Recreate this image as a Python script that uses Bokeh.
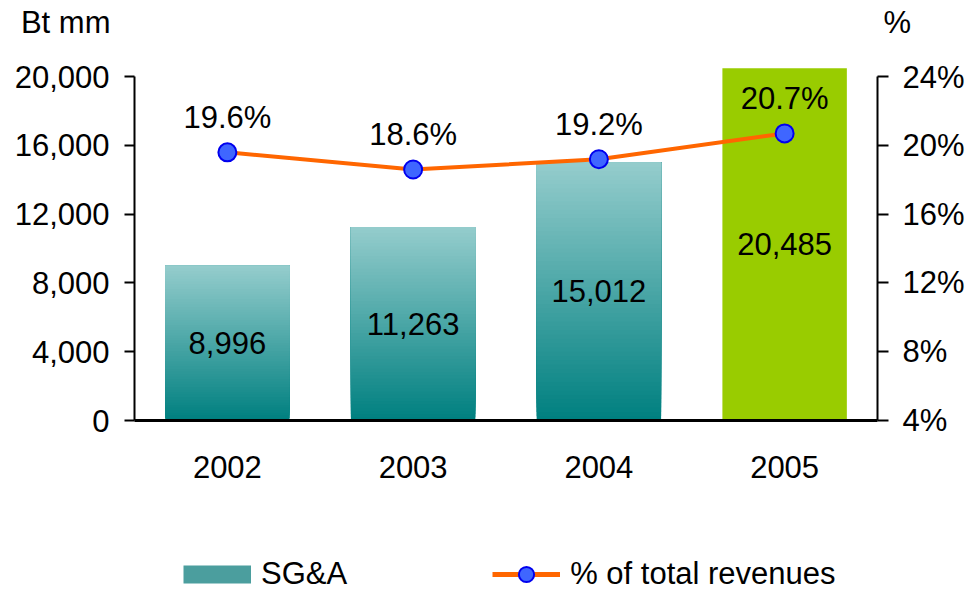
from bokeh.plotting import figure
from bokeh.layouts import column
from bokeh.models import (Range1d, LinearAxis, FixedTicker, NumeralTickFormatter,
                          PrintfTickFormatter, Legend, LegendItem)
from bokeh.core.properties import value
from bokeh.embed import file_html
from bokeh.resources import INLINE

# ---- data ----
years = ["2002", "2003", "2004", "2005"]
sga = [8996, 11263, 15012, 20485]
sga_labels = ["8,996", "11,263", "15,012", "20,485"]
pct = [19.6, 18.6, 19.2, 20.7]
pct_labels = ["19.6%", "18.6%", "19.2%", "20.7%"]
left_ticks = [0, 4000, 8000, 12000, 16000, 20000]
right_ticks = [4, 8, 12, 16, 20, 24]
highlight = ["2005"]
left_unit = "Bt mm"
right_unit = "%"
series_names = ["SG&A", "% of total revenues"]

FONT = "Liberation Sans"
FS = "31px"
TEAL_TOP = (148, 204, 204)
TEAL_BOT = (0, 128, 128)
TEAL_MID = "#4B9E9E"
GREEN = "#99CC00"
ORANGE = "#FF6600"
DOT_FILL = "#3F66FF"
DOT_LINE = "#0000EE"

FRAME_W = 743
BORDER_L = 134
BORDER_R = 82
HEAD_H = 59

def style_axis(ax):
    ax.axis_line_color = "black"
    ax.axis_line_width = 2
    ax.major_tick_line_color = "black"
    ax.major_tick_line_width = 2
    ax.minor_tick_line_color = None
    ax.major_label_text_font = FONT
    ax.major_label_text_font_size = FS
    ax.major_label_text_color = "black"

def bare_axis(ax):
    style_axis(ax)
    ax.axis_line_color = None
    ax.major_tick_line_color = None
    ax.major_tick_out = 0
    ax.major_tick_in = 0

def blank(fig):
    fig.outline_line_color = None
    fig.xgrid.grid_line_color = None
    fig.ygrid.grid_line_color = None

# ---- header strip: unit captions as axis labels ----
head = figure(frame_width=FRAME_W, frame_height=HEAD_H,
              min_border_left=BORDER_L, min_border_right=BORDER_R,
              min_border_top=0, min_border_bottom=0,
              x_range=Range1d(0, 1), y_range=Range1d(0, HEAD_H),
              x_axis_location=None, output_backend="svg", toolbar_location=None)
blank(head)
cap_pos = HEAD_H - 22
hl = head.yaxis[0]
bare_axis(hl)
hl.ticker = FixedTicker(ticks=[cap_pos])
hl.major_label_overrides = {cap_pos: left_unit}
hl.major_label_standoff = 24
hr = LinearAxis()
bare_axis(hr)
hr.ticker = FixedTicker(ticks=[cap_pos])
hr.major_label_overrides = {cap_pos: right_unit}
hr.major_label_standoff = 6
head.add_layout(hr, "right")

# ---- main chart ----
p = figure(x_range=years, y_range=Range1d(0, 21000),
           frame_width=FRAME_W, frame_height=361,
           min_border_left=BORDER_L, min_border_right=BORDER_R,
           min_border_top=0, min_border_bottom=70,
           output_backend="svg", toolbar_location=None)
blank(p)
p.background_fill_color = "white"
p.extra_y_ranges = {"pct": Range1d(4, 25)}

# gradient bars built from strips
N = 60
bx, bb, bt, bc = [], [], [], []
for yr, v in zip(years, sga):
    if yr in highlight:
        continue
    for i in range(N):
        f = i / (N - 1)
        r = round(TEAL_BOT[0] + (TEAL_TOP[0] - TEAL_BOT[0]) * f)
        g = round(TEAL_BOT[1] + (TEAL_TOP[1] - TEAL_BOT[1]) * f)
        b = round(TEAL_BOT[2] + (TEAL_TOP[2] - TEAL_BOT[2]) * f)
        bx.append(yr)
        bb.append(v * i / N)
        bt.append(v)
        bc.append("#%02x%02x%02x" % (r, g, b))
p.vbar(x=bx, bottom=bb, top=bt, width=0.67, fill_color=bc, line_color=None)

hx = [y for y in years if y in highlight]
hv = [v for y, v in zip(years, sga) if y in highlight]
p.vbar(x=hx, top=hv, width=0.67, fill_color=GREEN, line_color=None)

# value labels inside bars
p.text(x=years, y=[v / 2 for v in sga], text=sga_labels,
       text_align="center", text_baseline="middle",
       text_font=value(FONT), text_font_size=FS, text_color="black")

# line on right axis
p.line(x=years, y=pct, y_range_name="pct", line_color=ORANGE, line_width=4)
p.scatter(x=years, y=pct, y_range_name="pct", size=18, marker="circle",
          fill_color=DOT_FILL, line_color=DOT_LINE, line_width=2)
p.text(x=years, y=pct, text=pct_labels, y_range_name="pct", y_offset=-35,
       text_align="center", text_baseline="middle",
       text_font=value(FONT), text_font_size=FS, text_color="black")

yl = p.yaxis[0]
style_axis(yl)
yl.ticker = FixedTicker(ticks=left_ticks)
yl.formatter = NumeralTickFormatter(format="0,0")
yl.bounds = (0, 20000)
yl.major_tick_out = 10
yl.major_tick_in = 0
yl.major_label_standoff = 15

yr_ax = LinearAxis(y_range_name="pct")
style_axis(yr_ax)
yr_ax.ticker = FixedTicker(ticks=right_ticks)
yr_ax.formatter = PrintfTickFormatter(format="%d%%")
yr_ax.bounds = (4, 24)
yr_ax.major_tick_out = 11
yr_ax.major_tick_in = 0
yr_ax.major_label_standoff = 14
p.add_layout(yr_ax, "right")

xa = p.xaxis[0]
style_axis(xa)
xa.axis_line_width = 3
xa.major_tick_line_color = None
xa.major_label_standoff = 29

# ---- footer strip with the series legend ----
foot = figure(frame_width=FRAME_W, frame_height=103,
              min_border_left=BORDER_L, min_border_right=BORDER_R,
              min_border_top=0, min_border_bottom=0,
              x_range=Range1d(0, 1), y_range=Range1d(0, 1),
              x_axis_location=None, y_axis_location=None,
              output_backend="svg", toolbar_location=None)
blank(foot)
# legend keys: renderers whose only points lie outside the strip's ranges
off = [2, 3]
k_bar = foot.line(x=off, y=off, line_color=TEAL_MID, line_width=18, line_cap="butt")
k_line = foot.line(x=off, y=off, line_color=ORANGE, line_width=5)
k_dot = foot.scatter(x=off, y=off, marker="circle", size=16, fill_color=DOT_FILL,
                     line_color=DOT_LINE, line_width=2)
legend = Legend(items=[LegendItem(label=series_names[0], renderers=[k_bar]),
                       LegendItem(label=series_names[1], renderers=[k_line, k_dot])],
                location=(49, 0), orientation="horizontal")
legend.padding = 0
legend.margin = 0
legend.border_line_color = None
legend.background_fill_alpha = 0
legend.label_text_font = FONT
legend.label_text_font_size = FS
legend.label_text_color = "black"
legend.glyph_width = 68
legend.glyph_height = 38
legend.label_standoff = 10
legend.spacing = 145
foot.add_layout(legend, "center")

layout = column(head, p, foot, spacing=0)
open("out.html", "w").write(file_html(layout, INLINE))
